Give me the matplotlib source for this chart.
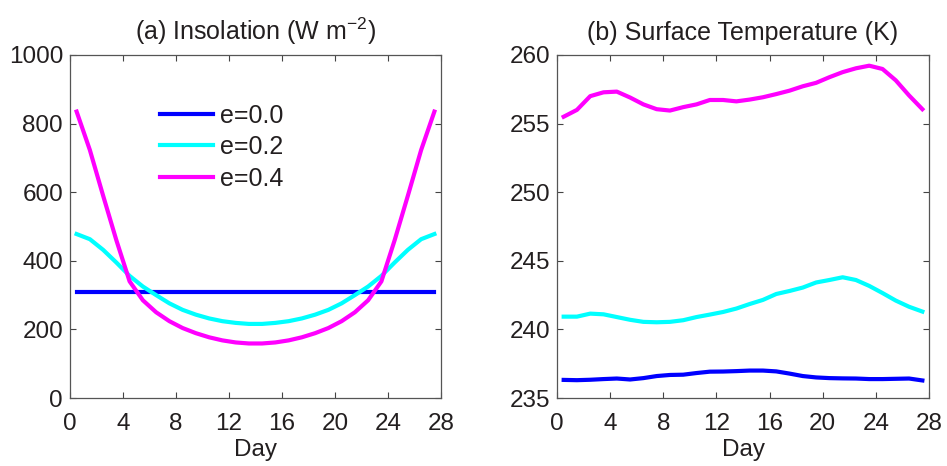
import numpy as np
import matplotlib
matplotlib.use("Agg")
import matplotlib.pyplot as plt

plt.rcParams['font.family'] = ['Liberation Sans', 'DejaVu Sans']
plt.rcParams['mathtext.fontset'] = 'custom'
plt.rcParams['mathtext.rm'] = 'Liberation Sans'

# days (mid-day samples)
days = np.arange(0.5, 28.0, 1.0)

# (a) insolation, W m^-2
ins_e00 = [310] * 28
ins_e02 = [478, 463, 432, 395, 356, 325, 300, 276, 257, 243, 232, 224, 219, 216,
           216, 219, 224, 232, 243, 257, 276, 300, 325, 356, 395, 432, 463, 478]
ins_e04 = [835, 723, 590, 460, 340, 285, 250, 224, 204, 189, 177, 168, 162, 159,
           159, 162, 168, 177, 189, 204, 224, 250, 285, 340, 460, 590, 723, 835]

# (b) surface temperature, K
ts_e00 = [236.32, 236.30, 236.33, 236.38, 236.42, 236.35, 236.45, 236.60, 236.68, 236.70,
          236.82, 236.92, 236.93, 236.96, 237.00, 237.00, 236.94, 236.78, 236.60, 236.50,
          236.45, 236.43, 236.42, 236.38, 236.38, 236.40, 236.42, 236.28]
ts_e02 = [240.93, 240.93, 241.15, 241.10, 240.90, 240.70, 240.55, 240.52, 240.55, 240.67,
          240.90, 241.08, 241.27, 241.52, 241.85, 242.15, 242.58, 242.80, 243.05, 243.42,
          243.60, 243.80, 243.60, 243.17, 242.65, 242.10, 241.65, 241.30]
ts_e04 = [255.50, 256.00, 257.00, 257.28, 257.33, 256.90, 256.40, 256.05, 255.95, 256.20,
          256.40, 256.72, 256.72, 256.62, 256.75, 256.92, 257.15, 257.40, 257.72, 257.97,
          258.38, 258.75, 259.03, 259.22, 258.98, 258.15, 257.05, 256.05]

labels = ['e=0.0', 'e=0.2', 'e=0.4']
colors = ['#0000ff', '#00ffff', '#ff00ff']
txt = '#231f20'

fig = plt.figure(figsize=(9.47, 4.66), dpi=100)
ax1 = fig.add_axes([0.0739, 0.1459, 0.3918, 0.7361])
ax2 = fig.add_axes([0.5882, 0.1459, 0.3928, 0.7361])

for y, c, l in zip([ins_e00, ins_e02, ins_e04], colors, labels):
    ax1.plot(days, y, color=c, lw=3, label=l)
for y, c in zip([ts_e00, ts_e02, ts_e04], colors):
    ax2.plot(days, y, color=c, lw=3)

ax1.set_ylim(0, 1000)
ax1.set_yticks(np.arange(0, 1001, 200))
ax2.set_ylim(235, 260)
ax2.set_yticks(np.arange(235, 261, 5))

for ax in (ax1, ax2):
    ax.set_xlim(0, 28)
    ax.set_xticks(np.arange(0, 29, 4))
    ax.set_xlabel('Day', fontsize=17.5, color=txt, labelpad=3)
    ax.tick_params(direction='in', top=True, right=True, length=4, width=0.8,
                   labelsize=17.5, labelcolor=txt, color='#444444', pad=5)
    ax.tick_params(axis='x', pad=11)
    for s in ax.spines.values():
        s.set_color('#555555')
        s.set_linewidth(0.9)

ax1.set_title(r'(a) Insolation (W m$^{-2}$)', fontsize=18, color=txt, pad=11)
ax2.set_title('(b) Surface Temperature (K)', fontsize=18, color=txt, pad=11)

ax1.legend(loc='upper left', bbox_to_anchor=(0.21, 0.895), frameon=False,
           fontsize=18, handlelength=2.1, handletextpad=0.3, labelspacing=0.3,
           borderpad=0, labelcolor=txt)

fig.savefig('out.png', dpi=100)
